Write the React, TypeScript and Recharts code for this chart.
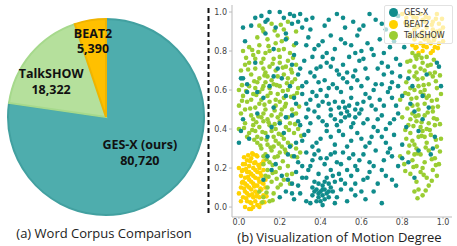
import React from 'react';
import { PieChart, Pie, Cell, ScatterChart, Scatter, XAxis, YAxis } from 'recharts';

// word corpus sizes
const corpusNames = ['GES-X (ours)', 'TalkSHOW', 'BEAT2'];
const corpusWords = [80720, 18322, 5390];
const corpusFill = ['#4eadad', '#b5e09c', '#ffc000'];
const corpusStroke = ['#42a0a0', '#a6d98c', '#f0b400'];

// motion degree points [x, y]
const gesxPoints: [number, number][] = [
    [0.15, 1.0], [0.2, 1.0], [0.13, 0.95], [0.14, 0.96], [0.18, 0.92], [0.13, 0.89], [0.25, 0.99], [0.27, 0.98],
    [0.3, 0.99], [0.33, 0.96], [0.36, 0.97], [0.48, 0.99], [0.56, 0.95], [0.61, 0.93], [0.67, 0.96], [0.72, 0.91],
    [0.78, 0.98], [0.26, 0.94], [0.31, 0.92], [0.42, 0.93], [0.52, 0.92], [0.02, 0.92], [0.08, 0.97],
    [0.03, 0.85], [0.17, 0.81], [0.23, 0.86], [0.28, 0.84], [0.34, 0.87], [0.39, 0.83], [0.41, 0.85], [0.45, 0.88],
    [0.5, 0.86], [0.55, 0.83], [0.58, 0.88], [0.63, 0.84], [0.69, 0.86], [0.74, 0.82], [0.37, 0.81], [0.47, 0.81],
    [0.6, 0.8], [0.81, 0.82],
    [0.08, 0.74], [0.27, 0.78], [0.32, 0.75], [0.36, 0.77], [0.4, 0.72], [0.43, 0.74], [0.46, 0.76], [0.51, 0.73],
    [0.54, 0.77], [0.59, 0.75], [0.62, 0.71], [0.66, 0.78], [0.7, 0.74], [0.73, 0.72], [0.77, 0.76], [0.48, 0.7],
    [0.38, 0.71], [0.57, 0.7], [0.3, 0.71], [0.98, 0.72],
    [0.01, 0.66], [0.02, 0.66], [0.04, 0.63], [0.17, 0.67], [0.21, 0.66], [0.25, 0.62], [0.29, 0.68], [0.33, 0.64],
    [0.37, 0.67], [0.42, 0.65], [0.44, 0.61], [0.49, 0.68], [0.53, 0.64], [0.56, 0.67], [0.6, 0.62], [0.63, 0.66],
    [0.67, 0.63], [0.71, 0.68], [0.75, 0.64], [0.79, 0.67], [0.46, 0.63], [0.4, 0.6], [0.85, 0.62], [0.99, 0.62],
    [0.92, 0.68],
    [0.04, 0.59], [0.12, 0.56], [0.17, 0.51], [0.23, 0.57], [0.28, 0.53], [0.31, 0.58], [0.35, 0.55], [0.39, 0.52],
    [0.43, 0.57], [0.47, 0.54], [0.5, 0.59], [0.52, 0.51], [0.55, 0.56], [0.58, 0.53], [0.62, 0.58], [0.65, 0.52],
    [0.69, 0.55], [0.73, 0.59], [0.77, 0.52], [0.8, 0.57], [0.84, 0.53], [0.45, 0.5], [0.6, 0.5], [0.34, 0.5],
    [0.02, 0.45], [0.09, 0.48], [0.2, 0.43], [0.26, 0.47], [0.3, 0.42], [0.33, 0.46], [0.37, 0.49], [0.41, 0.44],
    [0.45, 0.47], [0.48, 0.42], [0.5, 0.48], [0.52, 0.46], [0.54, 0.47], [0.56, 0.43], [0.59, 0.48], [0.63, 0.45],
    [0.66, 0.41], [0.7, 0.47], [0.74, 0.43], [0.78, 0.48], [0.82, 0.41], [0.9, 0.45], [0.5, 0.44], [0.53, 0.49],
    [0.57, 0.46],
    [0.0, 0.33], [0.14, 0.36], [0.22, 0.38], [0.28, 0.33], [0.32, 0.37], [0.36, 0.31], [0.4, 0.35], [0.43, 0.39],
    [0.47, 0.32], [0.51, 0.37], [0.55, 0.34], [0.58, 0.38], [0.62, 0.31], [0.65, 0.36], [0.68, 0.39], [0.72, 0.33],
    [0.76, 0.37], [0.8, 0.32], [0.96, 0.36], [0.25, 0.31], [0.88, 0.39],
    [0.18, 0.22], [0.24, 0.27], [0.29, 0.23], [0.33, 0.28], [0.36, 0.24], [0.39, 0.29], [0.42, 0.22], [0.45, 0.27],
    [0.48, 0.23], [0.51, 0.28], [0.54, 0.25], [0.57, 0.21], [0.61, 0.27], [0.64, 0.23], [0.67, 0.29], [0.71, 0.24],
    [0.75, 0.26], [0.78, 0.21], [0.83, 0.23], [0.94, 0.27], [0.14, 0.26], [0.35, 0.21], [0.4, 0.25], [0.88, 0.29],
    [0.12, 0.14], [0.16, 0.19], [0.21, 0.16], [0.26, 0.12], [0.28, 0.18], [0.31, 0.15], [0.34, 0.19], [0.37, 0.13],
    [0.39, 0.17], [0.41, 0.11], [0.43, 0.15], [0.45, 0.19], [0.47, 0.13], [0.49, 0.17], [0.52, 0.12], [0.55, 0.16],
    [0.58, 0.19], [0.61, 0.14], [0.64, 0.18], [0.68, 0.12], [0.72, 0.16], [0.77, 0.11], [0.86, 0.15], [0.42, 0.13],
    [0.44, 0.12],
    [0.2, 0.05], [0.23, 0.08], [0.27, 0.04], [0.3, 0.07], [0.33, 0.03], [0.36, 0.06], [0.38, 0.09], [0.39, 0.05],
    [0.4, 0.08], [0.41, 0.06], [0.42, 0.09], [0.43, 0.07], [0.44, 0.05], [0.4, 0.03], [0.41, 0.01], [0.46, 0.08],
    [0.48, 0.05], [0.5, 0.09], [0.53, 0.03], [0.57, 0.06], [0.62, 0.04], [0.66, 0.08], [0.7, 0.02], [0.45, 0.1],
    [0.38, 0.03],
    [0.06, 0.93], [0.11, 0.98], [0.22, 0.97], [0.29, 0.95], [0.35, 0.91], [0.44, 0.96], [0.51, 0.97], [0.59, 0.91],
    [0.64, 0.99], [0.7, 0.94], [0.75, 0.88], [0.33, 0.83], [0.43, 0.79], [0.52, 0.84], [0.57, 0.79], [0.65, 0.81],
    [0.71, 0.79], [0.76, 0.85], [0.26, 0.73], [0.35, 0.69], [0.41, 0.77], [0.45, 0.72], [0.53, 0.69], [0.61, 0.76],
    [0.68, 0.71], [0.75, 0.69], [0.79, 0.73], [0.31, 0.62], [0.36, 0.59], [0.39, 0.64], [0.48, 0.61], [0.51, 0.66],
    [0.55, 0.61], [0.58, 0.65], [0.66, 0.6], [0.7, 0.63], [0.74, 0.61], [0.78, 0.62], [0.27, 0.56], [0.33, 0.53],
    [0.38, 0.57], [0.41, 0.54], [0.44, 0.53], [0.49, 0.51], [0.51, 0.54], [0.54, 0.52], [0.57, 0.5], [0.61, 0.54],
    [0.64, 0.56], [0.67, 0.5], [0.71, 0.52], [0.75, 0.56], [0.23, 0.46], [0.29, 0.44], [0.35, 0.43], [0.39, 0.46],
    [0.43, 0.42], [0.47, 0.45], [0.55, 0.41], [0.61, 0.43], [0.68, 0.45], [0.72, 0.4], [0.76, 0.45], [0.31, 0.34],
    [0.34, 0.39], [0.38, 0.33], [0.45, 0.36], [0.49, 0.39], [0.53, 0.31], [0.6, 0.35], [0.64, 0.33], [0.7, 0.36],
    [0.74, 0.3], [0.27, 0.26], [0.31, 0.21], [0.37, 0.27], [0.43, 0.25], [0.47, 0.28], [0.5, 0.22], [0.56, 0.27],
    [0.59, 0.24], [0.66, 0.21], [0.73, 0.28], [0.8, 0.25], [0.24, 0.14], [0.29, 0.11], [0.33, 0.15], [0.36, 0.1],
    [0.39, 0.12], [0.46, 0.16], [0.5, 0.14], [0.53, 0.19], [0.57, 0.12], [0.63, 0.15], [0.7, 0.19], [0.75, 0.14],
    [0.39, 0.07], [0.42, 0.04], [0.41, 0.09], [0.37, 0.08], [0.44, 0.08], [0.35, 0.02], [0.47, 0.02], [0.26, 0.07],
    [0.55, 0.09], [0.6, 0.08],
    [0.05, 0.35], [0.15, 0.62], [0.19, 0.71], [0.09, 0.59], [0.86, 0.49], [0.9, 0.57], [0.95, 0.3], [0.83, 0.66],
    [0.93, 0.51], [0.97, 0.74], [0.01, 0.39], [0.23, 0.89], [0.16, 0.41],
];

const beat2Points: [number, number][] = [
    [0.0, 0.2], [0.01, 0.16], [0.01, 0.1], [0.02, 0.05], [0.02, 0.13], [0.02, 0.19], [0.03, 0.0], [0.03, 0.08],
    [0.03, 0.15], [0.03, 0.22], [0.04, 0.03], [0.04, 0.11], [0.04, 0.18], [0.05, -0.01], [0.05, 0.06], [0.05, 0.14],
    [0.05, 0.21], [0.06, 0.02], [0.06, 0.09], [0.06, 0.17], [0.06, 0.25], [0.07, 0.0], [0.07, 0.05], [0.07, 0.12],
    [0.07, 0.2], [0.07, 0.27], [0.08, 0.03], [0.08, 0.08], [0.08, 0.15], [0.08, 0.23], [0.09, 0.01], [0.09, 0.11],
    [0.09, 0.18], [0.09, 0.26], [0.1, 0.05], [0.1, 0.13], [0.1, 0.2], [0.11, 0.02], [0.11, 0.09], [0.11, 0.16],
    [0.12, 0.06], [0.12, 0.12], [0.12, 0.19], [0.13, 0.1], [0.13, 0.14], [0.0, 0.07], [0.01, 0.03], [0.02, 0.22],
    [0.04, 0.24], [0.05, 0.1], [0.06, 0.13], [0.07, 0.16], [0.08, 0.19], [0.09, 0.07], [0.1, 0.0], [0.11, 0.22],
    [0.06, -0.01], [0.03, 0.12], [0.04, 0.07], [0.08, 0.11], [0.05, 0.18],
    [0.015, 0.185], [0.025, 0.095], [0.035, 0.045], [0.045, 0.155], [0.055, 0.235], [0.065, 0.065], [0.075, 0.225],
    [0.085, 0.055], [0.095, 0.145], [0.105, 0.095], [0.115, 0.125], [0.125, 0.025], [0.015, 0.125], [0.035, 0.195],
    [0.055, 0.025], [0.075, 0.105], [0.095, 0.215], [0.105, 0.175], [0.065, 0.275], [0.085, 0.265], [0.045, 0.265],
    [0.025, 0.255], [0.135, 0.055], [0.12, 0.235],
    [0.8, 0.99], [0.82, 0.97], [0.83, 0.93], [0.84, 0.89], [0.84, 0.99], [0.85, 0.95], [0.86, 0.86], [0.86, 0.91],
    [0.87, 0.82], [0.87, 0.97], [0.88, 0.88], [0.88, 0.93], [0.89, 0.84], [0.89, 0.99], [0.9, 0.8], [0.9, 0.9],
    [0.91, 0.86], [0.91, 0.95], [0.92, 0.82], [0.92, 0.92], [0.93, 0.88], [0.93, 0.97], [0.94, 0.79], [0.94, 0.84],
    [0.95, 0.91], [0.95, 0.95], [0.96, 0.82], [0.96, 0.87], [0.97, 0.9], [0.97, 0.99], [0.98, 0.84], [0.98, 0.94],
    [0.99, 0.88], [1.0, 0.85], [1.0, 0.92], [0.85, 0.83], [0.88, 0.79], [0.9, 0.96], [0.93, 0.85], [0.95, 0.8],
    [0.815, 0.945], [0.835, 0.875], [0.855, 0.975], [0.865, 0.815], [0.875, 0.925], [0.895, 0.875], [0.905, 0.825],
    [0.915, 0.975], [0.925, 0.865], [0.945, 0.935], [0.955, 0.855], [0.965, 0.965], [0.975, 0.815], [0.985, 0.905],
    [0.995, 0.965], [0.945, 0.885],
];

const talkshowPoints: [number, number][] = [
    [0.1, 0.93], [0.12, 0.9], [0.16, 0.94], [0.19, 0.88], [0.22, 0.91], [0.24, 0.95], [0.14, 0.86], [0.21, 0.85],
    [0.09, 0.87], [0.28, 0.9],
    [0.02, 0.8], [0.05, 0.82], [0.07, 0.78], [0.1, 0.83], [0.12, 0.76], [0.15, 0.8], [0.18, 0.84], [0.2, 0.77],
    [0.22, 0.81], [0.25, 0.79], [0.27, 0.83], [0.13, 0.79], [0.17, 0.76], [0.08, 0.76], [0.24, 0.75],
    [0.01, 0.7], [0.03, 0.73], [0.06, 0.68], [0.08, 0.71], [0.1, 0.66], [0.11, 0.74], [0.13, 0.69], [0.15, 0.72],
    [0.16, 0.65], [0.18, 0.7], [0.2, 0.74], [0.22, 0.68], [0.23, 0.72], [0.26, 0.69], [0.28, 0.73], [0.05, 0.74],
    [0.14, 0.67], [0.19, 0.67], [0.12, 0.71], [0.24, 0.66],
    [0.0, 0.6], [0.02, 0.57], [0.05, 0.62], [0.07, 0.58], [0.09, 0.64], [0.1, 0.59], [0.12, 0.62], [0.14, 0.57],
    [0.15, 0.61], [0.17, 0.63], [0.19, 0.58], [0.2, 0.62], [0.22, 0.56], [0.24, 0.6], [0.26, 0.64], [0.27, 0.57],
    [0.11, 0.55], [0.06, 0.55], [0.18, 0.55], [0.29, 0.61], [0.13, 0.64], [0.08, 0.61],
    [0.0, 0.52], [0.01, 0.48], [0.03, 0.5], [0.04, 0.54], [0.06, 0.47], [0.08, 0.51], [0.1, 0.53], [0.11, 0.46],
    [0.13, 0.5], [0.15, 0.54], [0.16, 0.47], [0.18, 0.52], [0.19, 0.46], [0.21, 0.5], [0.23, 0.53], [0.24, 0.46],
    [0.26, 0.5], [0.28, 0.48], [0.07, 0.45], [0.14, 0.45], [0.2, 0.54], [0.12, 0.48],
    [0.0, 0.4], [0.03, 0.43], [0.05, 0.38], [0.07, 0.42], [0.09, 0.36], [0.1, 0.41], [0.12, 0.44], [0.13, 0.38],
    [0.15, 0.42], [0.17, 0.36], [0.18, 0.4], [0.2, 0.44], [0.21, 0.37], [0.23, 0.41], [0.25, 0.43], [0.27, 0.38],
    [0.29, 0.4], [0.08, 0.39], [0.16, 0.39], [0.11, 0.35], [0.22, 0.35], [0.04, 0.36],
    [0.09, 0.33], [0.11, 0.3], [0.13, 0.27], [0.14, 0.32], [0.16, 0.29], [0.18, 0.34], [0.19, 0.26], [0.21, 0.31],
    [0.23, 0.28], [0.24, 0.33], [0.26, 0.26], [0.28, 0.3], [0.12, 0.26], [0.17, 0.31], [0.2, 0.28], [0.3, 0.28],
    [0.12, 0.22], [0.14, 0.19], [0.15, 0.23], [0.13, 0.16], [0.16, 0.13], [0.18, 0.18], [0.2, 0.2], [0.22, 0.14],
    [0.24, 0.21], [0.19, 0.1], [0.14, 0.1], [0.17, 0.07], [0.12, 0.05], [0.15, 0.03], [0.1, 0.08], [0.26, 0.17],
    [0.25, 0.12],
    [0.115, 0.915], [0.175, 0.905], [0.205, 0.935], [0.145, 0.825], [0.235, 0.865], [0.065, 0.805], [0.035, 0.765],
    [0.095, 0.795], [0.195, 0.805], [0.265, 0.765], [0.045, 0.705], [0.075, 0.645], [0.125, 0.675], [0.165, 0.735],
    [0.215, 0.715], [0.255, 0.705], [0.275, 0.655], [0.015, 0.625], [0.035, 0.595], [0.085, 0.575], [0.115, 0.605],
    [0.155, 0.585], [0.185, 0.625], [0.215, 0.595], [0.235, 0.635], [0.255, 0.565], [0.285, 0.585], [0.015, 0.545],
    [0.055, 0.505], [0.095, 0.465], [0.125, 0.525], [0.175, 0.495], [0.205, 0.475], [0.225, 0.515], [0.265, 0.475],
    [0.295, 0.515], [0.025, 0.405], [0.065, 0.395], [0.085, 0.435], [0.115, 0.385], [0.145, 0.435], [0.175, 0.425],
    [0.195, 0.375], [0.245, 0.395], [0.275, 0.425], [0.305, 0.365], [0.075, 0.345], [0.105, 0.315], [0.135, 0.345],
    [0.155, 0.305], [0.195, 0.325], [0.225, 0.295], [0.255, 0.315], [0.285, 0.255], [0.135, 0.245], [0.165, 0.215],
    [0.175, 0.255], [0.215, 0.235], [0.145, 0.155], [0.165, 0.175], [0.205, 0.115], [0.235, 0.165], [0.135, 0.075],
    [0.165, 0.035], [0.115, 0.025], [0.185, 0.145],
    [0.84, 0.75], [0.86, 0.72], [0.88, 0.78], [0.9, 0.74], [0.92, 0.77], [0.89, 0.71], [0.94, 0.73], [0.85, 0.79],
    [0.87, 0.76], [0.91, 0.7],
    [0.82, 0.64], [0.86, 0.67], [0.88, 0.62], [0.9, 0.66], [0.93, 0.63], [0.95, 0.67], [0.97, 0.61], [0.87, 0.69],
    [0.91, 0.6], [0.84, 0.61], [0.96, 0.69],
    [0.79, 0.55], [0.83, 0.58], [0.85, 0.52], [0.87, 0.56], [0.89, 0.59], [0.91, 0.53], [0.93, 0.57], [0.95, 0.51],
    [0.97, 0.55], [0.99, 0.58], [0.88, 0.5], [0.92, 0.56], [0.86, 0.6],
    [0.8, 0.46], [0.83, 0.42], [0.85, 0.48], [0.87, 0.44], [0.89, 0.41], [0.91, 0.47], [0.93, 0.43], [0.95, 0.49],
    [0.97, 0.45], [0.92, 0.4], [0.88, 0.47], [0.84, 0.45], [0.96, 0.42],
    [0.82, 0.35], [0.84, 0.38], [0.86, 0.32], [0.88, 0.36], [0.9, 0.39], [0.92, 0.33], [0.94, 0.37], [0.97, 0.31],
    [0.99, 0.35], [0.87, 0.3], [0.91, 0.36], [0.85, 0.34],
    [0.79, 0.26], [0.81, 0.22], [0.83, 0.28], [0.85, 0.24], [0.87, 0.21], [0.89, 0.27], [0.91, 0.23], [0.93, 0.29],
    [0.96, 0.25], [0.98, 0.22], [0.9, 0.2], [0.86, 0.27],
    [0.84, 0.17], [0.87, 0.13], [0.89, 0.18], [0.92, 0.15], [0.95, 0.19], [0.88, 0.09], [0.9, 0.06], [0.93, 0.11],
    [0.86, 0.08], [0.97, 0.16],
    [0.825, 0.745], [0.865, 0.775], [0.895, 0.765], [0.925, 0.725], [0.955, 0.755], [0.835, 0.695], [0.875, 0.655],
    [0.905, 0.625], [0.935, 0.685], [0.965, 0.645], [0.985, 0.675], [0.815, 0.585], [0.845, 0.555], [0.875, 0.525],
    [0.905, 0.575], [0.945, 0.545], [0.975, 0.515], [0.825, 0.505], [0.865, 0.465], [0.895, 0.435], [0.925, 0.485],
    [0.955, 0.455], [0.985, 0.425], [0.815, 0.395], [0.855, 0.415], [0.895, 0.365], [0.935, 0.395], [0.965, 0.345],
    [0.835, 0.315], [0.875, 0.275], [0.915, 0.305], [0.945, 0.245], [0.985, 0.285], [0.815, 0.185], [0.855, 0.205],
    [0.905, 0.165], [0.945, 0.135], [0.875, 0.045], [0.915, 0.085], [0.965, 0.215],
];

const axisTicks = [0, 0.2, 0.4, 0.6, 0.8, 1.0];

const seriesNames = ['GES-X', 'BEAT2', 'TalkSHOW'];
const seriesColors = ['#108c8c', '#ffd200', '#9acd32'];

const pieData = corpusNames.map((name, i) => ({ name, value: corpusWords[i] }));
const toXY = (pts: [number, number][]) => pts.map(([x, y]) => ({ x, y }));

const RADIAN = Math.PI / 180;
// where each label sits: share of the radius, and a nudge off the slice's mid angle
const labelRadius = [0.5, 0.67, 0.79];
const labelTurn = [2.8, 6.6, 0.4];

const renderPieLabel = (props: any) => {
    const { cx, cy, midAngle, outerRadius, index } = props;
    const r = outerRadius * labelRadius[index];
    const a = (midAngle + labelTurn[index]) * RADIAN;
    const x = cx + r * Math.cos(-a);
    const y = cy + r * Math.sin(-a);
    return (
        <text x={x} y={y} textAnchor="middle" fill="#111" fontSize={12.5} fontWeight={700} fontFamily="Open Sans">
            <tspan x={x} dy={-3}>{corpusNames[index]}</tspan>
            <tspan x={x} dy={15.5}>{corpusWords[index].toLocaleString('en-US')}</tspan>
        </text>
    );
};

const dot = (color: string) => (props: any) => (
    <circle cx={props.cx} cy={props.cy} r={2.3} fill={color} />
);

const tickStyle = { fontSize: 8, fill: '#444', fontFamily: 'DejaVu Sans' };

export default function App() {
    return (
        <div style={{ position: 'fixed', left: 0, top: 0, width: 457, height: 246, background: '#fff' }}>
            <div style={{ position: 'absolute', left: 0, top: 0 }}>
                <PieChart width={205} height={224}>
                    <Pie
                        data={pieData}
                        dataKey="value"
                        cx={101}
                        cy={112}
                        outerRadius={98}
                        startAngle={90}
                        endAngle={-270}
                        label={renderPieLabel}
                        labelLine={false}
                        isAnimationActive={false}
                    >
                        {pieData.map((d, i) => (
                            <Cell key={d.name} fill={corpusFill[i]} stroke={corpusStroke[i]} strokeWidth={2} />
                        ))}
                    </Pie>
                </PieChart>
            </div>
            <div style={{ position: 'absolute', left: 0, top: 224, width: 208, textAlign: 'center', fontFamily: 'Open Sans', fontSize: 13, color: '#222' }}>
                (a) Word Corpus Comparison
            </div>
            <svg style={{ position: 'absolute', left: 205, top: 0 }} width={6} height={220}>
                <line x1={3.5} y1={8} x2={3.5} y2={213} stroke="#111" strokeWidth={2} strokeDasharray="5 3" />
            </svg>
            <div style={{ position: 'absolute', left: 205, top: 0 }}>
                <ScatterChart width={252} height={230} margin={{ top: 5, right: 5, left: 0, bottom: 0 }}>
                    <XAxis
                        type="number"
                        dataKey="x"
                        domain={[-0.034, 1.044]}
                        ticks={axisTicks}
                        tickFormatter={(v: number) => v.toFixed(1)}
                        tick={tickStyle}
                        tickSize={2}
                        tickMargin={0}
                        height={13}
                        stroke="#bbb"
                        allowDataOverflow
                    />
                    <YAxis
                        type="number"
                        dataKey="y"
                        domain={[-0.051, 1.036]}
                        ticks={axisTicks}
                        tickFormatter={(v: number) => v.toFixed(1)}
                        tick={tickStyle}
                        tickSize={3}
                        width={27}
                        stroke="#bbb"
                        allowDataOverflow
                    />
                    <Scatter name="BEAT2" data={toXY(beat2Points)} shape={dot(seriesColors[1])} isAnimationActive={false} />
                    <Scatter name="TalkSHOW" data={toXY(talkshowPoints)} shape={dot(seriesColors[2])} isAnimationActive={false} />
                    <Scatter name="GES-X" data={toXY(gesxPoints)} shape={dot(seriesColors[0])} isAnimationActive={false} />
                </ScatterChart>
            </div>
            <div style={{
                position: 'absolute', left: 384, top: 5, width: 60, padding: '1px 3px 1px 4px',
                background: 'rgba(255,255,255,0.65)', border: '1px solid #e2e2e2', borderRadius: 2,
                fontFamily: 'DejaVu Sans', fontSize: 8, color: '#333',
            }}>
                {seriesNames.map((n, i) => (
                    <div key={n} style={{ display: 'flex', alignItems: 'center', height: 11.5 }}>
                        <span style={{ width: 9, height: 9, borderRadius: '50%', background: seriesColors[i], marginRight: 6, flexShrink: 0 }} />
                        {n}
                    </div>
                ))}
            </div>
            <div style={{ position: 'absolute', left: 222, top: 228, width: 235, textAlign: 'center', fontFamily: 'Open Sans', fontSize: 13, color: '#222' }}>
                (b) Visualization of Motion Degree
            </div>
        </div>
    );
}
